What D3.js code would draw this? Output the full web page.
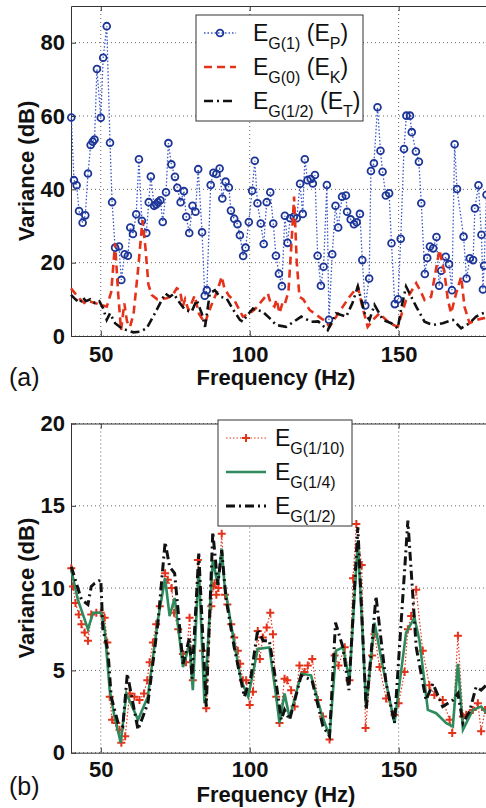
<!DOCTYPE html>
<html>
<head>
<meta charset="utf-8">
<script src="https://cdn.jsdelivr.net/npm/d3@7/dist/d3.min.js"></script>
<style>
  html, body { margin: 0; padding: 0; background: #fff; }
  svg { display: block; font-family: "Liberation Sans", Arial, sans-serif; }
</style>
</head>
<body>
<svg id="chart" width="486" height="808"></svg>
<script>
// ---- data: [frequency Hz, variance dB] ----
const xTicks = [50, 100, 150];
const yTicksA = [0, 20, 40, 60, 80];
const yTicksB = [0, 5, 10, 15, 20];

// panel (a) E_G(1) (E_P), circles
const aEP = [[40.1,59.6],[41,42.5],[41.9,41.1],[42.7,34.1],[43.9,30.9],[44.8,32.9],[45.7,44.3],[46.6,52.1],[47.3,53],[47.9,53.6],
  [48.7,72.8],[50,59.5],[50.8,75.9],[52,84.5],[53.1,52.7],[53.8,36.5],[54.8,24.1],[56.1,24.4],[56.9,15.3],[58,22.3],
  [59.1,21.9],[59.9,29.6],[60.8,27.8],[61.9,33.2],[62.8,48.2],[63.8,31.4],[65.3,28.1],[66.1,36.5],[66.8,43.5],[67.9,35.5],
  [68.6,35.9],[69.2,36.5],[70,37],[70.8,31.1],[71.9,39.2],[72.7,52.6],[73.7,46.8],[74.9,43.4],[75.7,40.4],[76.8,36.5],
  [77.9,39.5],[78.7,32.5],[79.7,28.1],[80.8,35.5],[81.8,33.9],[82.7,45.5],[84,28.3],[84.9,11],[85.6,12.5],[86.9,41.2],
  [87.8,44.5],[88.8,44.2],[89.9,45.7],[90.8,37.5],[91.9,42.1],[93,40.5],[93.7,34.2],[94.8,32],[95.9,30.5],[96.7,27.5],
  [97.8,21.8],[98.6,24.1],[99.7,31.1],[100.8,39.6],[101.7,47.8],[102.6,36.2],[103.7,30.7],[104.7,25.1],[105.7,36.5],[106.9,39.2],
  [107.9,30.7],[108.8,21.9],[109.8,17],[110.8,13.6],[111.8,32.8],[112.7,25.4],[113.6,32.1],[114.8,32.5],[115.8,32.1],[116.9,41.5],
  [117.8,33.3],[118.5,48.2],[119.4,42.5],[120.5,42.8],[121.2,41.6],[121.9,43.9],[122.8,21.9],[123.9,13.7],[124.8,18.9],[125.9,41.2],
  [126.6,4.4],[127.7,22.3],[128.8,35.5],[129.7,29.6],[131,38],[132.3,38.3],[132.7,33.9],[133.9,31.8],[135,30.5],[135.9,31],
  [137,33.3],[137.8,20.7],[138.8,8.3],[140.1,15.7],[140.7,45],[141.7,47.1],[142.9,62.4],[143.9,50.5],[144.6,44.8],[145.7,38.3],
  [146.8,38.9],[147.6,25.3],[148.7,8.7],[149.8,10],[150.7,26.5],[151.8,51],[152.6,60.1],[153.8,60.1],[154.4,55.6],[155.8,50.3],
  [156.8,47.5],[157.6,36.2],[158.8,16.9],[159.6,21.3],[160.5,24.4],[161.6,23.9],[162.7,27],[163.6,13.7],[164.3,17.8],[165.8,21.6],
  [166.9,19.6],[167.9,12.5],[168.8,52.3],[169.6,40.1],[171.8,27.1],[172.8,15.7],[173.9,21.2],[175,20.7],[175.6,34.8],[176.8,41.1],
  [177.8,27.6],[178.3,12.7],[178.7,19.2],[179.5,38.5]];

// panel (a) E_G(0) (E_K), red dashed
const aEK = [[40,13],[41.5,11.5],[43,10],[44.5,9],[46,9.5],[48,9],[50,8.5],[52,8],[53.5,12],[54.8,25.3],
  [55.8,12],[56.8,1.6],[57.9,8.9],[58.8,4],[59.8,2.5],[61,6],[62.5,18],[64,31.6],[65,24],[66,14],
  [67.1,11.2],[69,10],[72.1,10.3],[74,11],[75.5,13],[76.6,12.5],[77.5,8],[78.3,10],[79.4,7.1],[80.5,9],
  [81.5,11],[83,6],[85,3.5],[86,6],[87.8,9.8],[89,12],[90.6,16.2],[91.5,13],[93,11],[95,9.5],
  [97.7,5.3],[100,6.2],[102,7.5],[104,9.5],[106.1,11.6],[107,9],[108.3,8],[109,10],[110,6.2],[111,9],
  [111.7,8.5],[113,12],[114,25],[114.9,38],[115.8,20],[116.7,10.7],[118,10],[120.1,7.1],[122,6],[124,4.8],
  [125.5,4],[126.8,2.5],[128,4],[130.1,6.6],[133.5,10.7],[136.3,13.5],[137.5,9],[139.6,2.5],[141.5,4.5],[143.6,6.2],
  [145,5],[146.9,3.5],[149.7,2.5],[151,6],[152.5,9.8],[155.9,14.4],[157.5,12],[158.7,9.8],[160.9,10.7],[162.5,18],
  [163.7,23.5],[165.4,17.1],[166.5,10],[167.6,6.2],[169.3,11.6],[171,16.2],[172.1,8],[173.8,3.5],[176,4.4],[178.3,4.8],[180,5]];

// panel (a) E_G(1/2) (E_T), black dash-dot
const aET = [[40,11.2],[41.5,10],[43,9],[44,10.5],[45,9.5],[46.5,10],[48,9],[49.5,9.5],[50.8,7.5],[52,4.4],
  [53.1,6.2],[54.8,3.5],[57,2.1],[58.7,1.6],[61,1],[63.2,1.2],[65.4,2.1],[67.6,5.3],[69.9,8.9],[71.6,11.6],
  [73.2,10.7],[74.5,11.5],[76.6,8.9],[78.3,7.1],[80.5,6.6],[82.2,9.8],[83.9,6.2],[85,2.5],[86.6,11.6],[88.3,12.5],
  [90,10.7],[92.2,10.3],[94.5,7.1],[96.7,4.4],[97.7,3.9],[99,5.5],[101.1,7.5],[104.4,6.6],[106.5,5],[108.9,3],
  [112.2,2.5],[115,4],[117.3,5.3],[120.6,3.9],[123,4],[126.2,1.6],[129,6.2],[132.4,5.3],[134.5,9],[136.3,13.5],
  [138.6,6.2],[140.2,4.4],[141.9,8.5],[144.7,4.4],[147.5,3.5],[149.7,2.1],[151,8],[152.5,13.5],[155.9,8],[158.7,3.9],
  [161.5,3],[164.8,3.5],[168.2,4.4],[171,2.1],[173.8,3.5],[176,5.3],[178.3,6.2],[180,6.5]];

// panel (b) E_G(1/10), red dotted with +
const bG10 = [[40.1,11.2],[40.7,10.1],[41.5,9.1],[42.6,8.4],[43.5,7.8],[44.6,7.3],[45.7,6.8],[46.8,8.4],[48.5,8.5],[50,8.5],
  [51.3,8.2],[52.2,6.7],[53,3.4],[53.8,2],[55.2,1.8],[56.3,1.4],[56.9,0.6],[58.2,1],[59.7,3.6],[61.3,3.4],
  [63,3.2],[64.5,3.6],[65.6,4.4],[66.4,5.5],[67.5,6.7],[68.6,7.8],[69.8,8.9],[71.6,10.9],[72.5,10.5],[73.8,10],
  [74.6,8.5],[76,7.5],[77.6,6],[78.6,5.5],[79.8,8.2],[80.9,4.4],[82.6,11.7],[84.3,6.2],[85.4,2.7],[87.1,8.9],
  [87.8,10.1],[88.2,10.3],[88.8,9.6],[89.5,10],[90.6,13.3],[91.7,9.6],[92.5,9],[93.8,7.8],[94.8,7],[96,6.2],
  [96.8,5.4],[97.7,4.4],[98.8,4.4],[100,2.9],[101.1,3.7],[102.7,7.4],[103.4,5.7],[104.4,7],[105.7,7.6],[106.9,8.5],
  [107.8,7.2],[108.9,3.4],[110,1.8],[111.7,4.5],[112.6,4.4],[113.9,3.8],[115.1,2.8],[116.7,5.3],[118.4,4.9],[119.5,5.3],
  [121,5.7],[122.9,3.2],[124.6,2.2],[126.8,0.8],[128.5,5.9],[129.8,5.3],[131.9,6.4],[133.5,4.4],[134.7,10.6],[135.8,13.9],
  [137.6,11.4],[138.9,1.5],[141.1,5.9],[141.9,7.2],[143.6,5.2],[145.8,3.3],[148.6,2.3],[150,3],[152,4.9],[153.1,7.5],
  [154.2,8.3],[155.9,9.9],[158.1,6.2],[160.3,4.1],[162,3.5],[164.8,3.2],[167.1,2],[168,1.2],[169.9,7.1],[171.6,2.2],
  [172.7,2.3],[174.9,2.6],[176.6,3],[177.7,1.3],[179,2.6]];

// panel (b) E_G(1/4), green solid
const bG4 = [[40.1,11.1],[42.3,9.3],[45.7,7.5],[47.4,8.5],[50.2,8.5],[51.3,7.5],[53,3.8],[54.6,2.2],[56.7,0.6],[58.6,3.6],
  [62.5,2],[65.8,3.4],[69.2,8.1],[71.6,10.6],[73.1,8.3],[74.8,9.4],[77.6,5.2],[79.8,6.6],[80.9,3.8],[82.9,11.3],
  [84.8,3],[87.6,11.7],[89.3,10.2],[90.6,12.4],[91.5,10.3],[93.8,7.7],[97.1,4.4],[99.5,3.4],[102.7,6.3],[106.6,6.4],
  [108.9,3.4],[110,1.8],[111.7,3.6],[113.4,2.1],[117.3,4.8],[120.6,4.7],[124,2.4],[126.8,1],[129,6.2],[131.3,6.4],
  [133.5,4.4],[136.3,12.9],[139.1,2.8],[141.9,7.9],[144.7,5.2],[148.6,1.8],[152.5,7.3],[155.3,8.2],[157,6.8],[159.8,2.6],
  [162.6,2.4],[166,1.8],[168.2,1.6],[169.9,5.4],[171.6,1.4],[174.9,2.6],[177.7,2.8],[179.5,2.4]];

// panel (b) E_G(1/2), black dash-dot
const bG2 = [[40.1,11.3],[43.5,9.3],[45.7,9],[46.8,10.1],[48,10.3],[50,10.5],[50.7,7.5],[52.4,6.2],[53.5,3.4],[55.8,1.8],
  [57.4,1.6],[58.9,4.8],[62.5,1.4],[65.8,3],[69.2,7.9],[71.6,12.8],[73.1,11.3],[74.8,10.9],[77.6,5.4],[79.8,7],
  [80.6,4.5],[82.9,12.1],[85.4,2.8],[87.6,13.4],[89.3,10.2],[90.6,12.3],[92,9.4],[94.8,6.4],[98.2,3.4],[100.4,4.6],
  [102.7,7.5],[104.5,6.8],[106.6,6.8],[108.9,4.2],[110.6,2],[111.7,2.6],[113.4,2],[117.3,4.7],[120.9,4.4],[124.6,1.6],
  [126.8,1],[128.8,7.9],[131.3,6.4],[133.3,3.8],[136.3,13.7],[139.1,2.6],[142.4,9.5],[145.8,4.2],[148.6,1.8],[153.1,14.1],
  [155.9,6.4],[159.2,3.2],[161.5,4.2],[164.8,2.8],[168.2,3.2],[169.9,3.6],[171.6,1.8],[173.8,2.5],[176,4],[177.7,3.8],[180,4.2]];

const svg = d3.select("#chart");
const FONT = 22;

function drawPanel(cfg) {
  const x = d3.scaleLinear().domain([40, 180]).range([71, 488]);
  const y = d3.scaleLinear().domain(cfg.yDomain).range([cfg.bottom, cfg.top]);
  const g = svg.append("g");

  // dotted grid
  g.selectAll(".vg").data(xTicks).enter().append("line")
    .attr("x1", d => x(d)).attr("x2", d => x(d))
    .attr("y1", cfg.top).attr("y2", cfg.bottom)
    .attr("stroke", "#666").attr("stroke-width", 1).attr("stroke-dasharray", "1,3");
  g.selectAll(".hg").data(cfg.yTicks).enter().append("line")
    .attr("x1", 71).attr("x2", 488)
    .attr("y1", d => y(d)).attr("y2", d => y(d))
    .attr("stroke", "#666").attr("stroke-width", 1).attr("stroke-dasharray", "1,3");

  // axes (MATLAB style: inward ticks, box)
  g.append("g").attr("transform", `translate(0,${cfg.bottom})`)
    .call(d3.axisBottom(x).tickValues(xTicks).tickSizeInner(-5).tickSizeOuter(0).tickPadding(cfg.tickPad))
    .call(a => a.select(".domain").attr("stroke", "#333"));
  g.append("g").attr("transform", `translate(0,${cfg.top})`)
    .call(d3.axisTop(x).tickValues(xTicks).tickSizeInner(-5).tickSizeOuter(0).tickFormat(""))
    .call(a => a.select(".domain").attr("stroke", "#333"));
  g.append("g").attr("transform", "translate(71,0)")
    .call(d3.axisLeft(y).tickValues(cfg.yTicks).tickSizeInner(-5).tickSizeOuter(0).tickPadding(6))
    .call(a => a.select(".domain").attr("stroke", "#333"));
  g.selectAll(".tick text").attr("font-size", FONT).attr("font-family", "Liberation Sans, Arial, sans-serif")
    .attr("font-weight", "bold").attr("fill", "#111");
  g.selectAll(".tick line").attr("stroke", "#333");

  const plot = g.append("g");
  const line = d3.line().x(d => x(d[0])).y(d => y(d[1]));

  cfg.series.forEach(s => {
    plot.append("path").datum(s.data).attr("d", line)
      .attr("fill", "none").attr("stroke", s.color).attr("stroke-width", s.width)
      .attr("stroke-dasharray", s.dash);
    if (s.marker === "circle") {
      plot.selectAll(null).data(s.data).enter().append("circle")
        .attr("cx", d => x(d[0])).attr("cy", d => y(d[1])).attr("r", 3.4)
        .attr("fill", "none").attr("stroke", s.markerColor).attr("stroke-width", 1.8);
    } else if (s.marker === "plus") {
      plot.selectAll(null).data(s.data).enter().append("path")
        .attr("d", d => `M${x(d[0]) - 4},${y(d[1])}h8M${x(d[0])},${y(d[1]) - 4}v8`)
        .attr("stroke", s.markerColor).attr("stroke-width", 2);
    }
  });

  // labels
  g.append("text").attr("x", 276).attr("y", cfg.bottom + cfg.xlabY).attr("text-anchor", "middle")
    .attr("font-size", FONT).attr("font-weight", "bold").attr("fill", "#111").text("Frequency (Hz)");
  g.append("text").attr("transform", `translate(34,${(cfg.top + cfg.bottom) / 2}) rotate(-90)`)
    .attr("text-anchor", "middle").attr("font-size", FONT).attr("font-weight", "bold").attr("fill", "#111")
    .text("Variance (dB)");
  g.append("text").attr("x", 9).attr("y", cfg.bottom + cfg.tagY).attr("font-size", 25).attr("fill", "#111")
    .text(cfg.tag);

  // legend
  const L = cfg.legend;
  g.append("rect").attr("x", L.x).attr("y", L.y).attr("width", L.w).attr("height", L.h)
    .attr("fill", "#fff").attr("stroke", "#333").attr("stroke-width", 1);
  cfg.series.forEach((s, i) => {
    const ry = L.y + L.row0 + i * L.step;
    g.append("line").attr("x1", L.x + 8).attr("x2", L.x + L.sample)
      .attr("y1", ry).attr("y2", ry).attr("stroke", s.color).attr("stroke-width", s.width)
      .attr("stroke-dasharray", s.dash);
    const mx = L.x + 8 + (L.sample - 8) / 2;
    if (s.marker === "circle") {
      g.append("circle").attr("cx", mx).attr("cy", ry).attr("r", 3.4)
        .attr("fill", "none").attr("stroke", s.markerColor).attr("stroke-width", 1.8);
    } else if (s.marker === "plus") {
      g.append("path").attr("d", `M${mx - 4},${ry}h8M${mx},${ry - 4}v8`)
        .attr("stroke", s.markerColor).attr("stroke-width", 2);
    }
    const t = g.append("text").attr("x", L.x + L.textX).attr("y", ry + 8)
      .attr("font-size", 23).attr("fill", "#111");
    t.append("tspan").text("E");
    t.append("tspan").attr("dy", 8).attr("font-size", 16).text(s.sub);
    if (s.alt) {
      t.append("tspan").attr("dy", -8).text(" (E");
      t.append("tspan").attr("dy", 8).attr("font-size", 16).text(s.alt);
      t.append("tspan").attr("dy", -8).text(")");
    }
  });
}

drawPanel({
  top: 6, bottom: 336, yDomain: [0, 90], yTicks: yTicksA, tag: "(a)", tagY: 50, xlabY: 49, tickPad: 10,
  legend: { x: 196, y: 15, w: 167, h: 106, row0: 18, step: 34, sample: 40, textX: 57 },
  series: [
    { data: aEP, color: "#3a55c8", width: 1.3, dash: "1.5,2", marker: "circle", markerColor: "#1c3596", sub: "G(1)", alt: "P" },
    { data: aEK, color: "#e5331b", width: 2.6, dash: "8,5", sub: "G(0)", alt: "K" },
    { data: aET, color: "#111", width: 2.6, dash: "9,4,2,4", sub: "G(1/2)", alt: "T" }
  ]
});

drawPanel({
  top: 423.5, bottom: 752.7, yDomain: [0, 20], yTicks: yTicksB, tag: "(b)", tagY: 42, xlabY: 49, tickPad: 9,
  legend: { x: 218, y: 420, w: 134, h: 106, row0: 18, step: 34, sample: 48, textX: 57 },
  series: [
    { data: bG10, color: "#e5331b", width: 1.2, dash: "1.5,2", marker: "plus", markerColor: "#e5331b", sub: "G(1/10)" },
    { data: bG4, color: "#2e8b5e", width: 2.6, dash: null, sub: "G(1/4)" },
    { data: bG2, color: "#111", width: 3, dash: "9,4,2,4", sub: "G(1/2)" }
  ]
});
</script>
</body>
</html>
